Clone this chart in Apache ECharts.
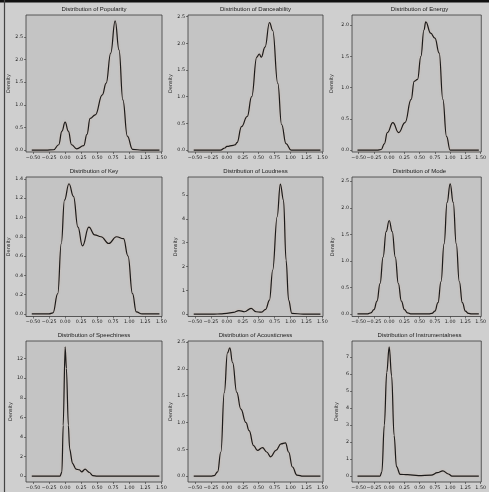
<!DOCTYPE html>
<html>
<head>
<meta charset="utf-8">
<script src="https://cdn.jsdelivr.net/npm/echarts@6/dist/echarts.min.js"></script>
<style>
  html, body { margin: 0; padding: 0; background: #cfcfcf; }
  #chart { width: 489px; height: 492px; }
</style>
</head>
<body>
<div id="chart"></div>
<script>
// ---------- data ----------
const titles = ["Distribution of Popularity", "Distribution of Danceability", "Distribution of Energy",
                "Distribution of Key", "Distribution of Loudness", "Distribution of Mode",
                "Distribution of Speechiness", "Distribution of Acousticness", "Distribution of Instrumentalness"];

const xTicks = [-0.5, -0.25, 0, 0.25, 0.5, 0.75, 1.0, 1.25, 1.5];

const popularityX = [-0.52, -0.3, -0.18, -0.1, -0.05, 0.0, 0.05, 0.1, 0.18, 0.29, 0.34, 0.39, 0.47, 0.58, 0.64, 0.71, 0.78, 0.84, 0.9, 0.97, 1.05, 1.2, 1.47];
const popularityY = [0, 0, 0.01, 0.12, 0.42, 0.62, 0.42, 0.12, 0.03, 0.1, 0.35, 0.7, 0.78, 1.22, 1.48, 2.14, 2.85, 2.21, 1.11, 0.31, 0.02, 0, 0];
const popularityTicks = [0, 0.5, 1.0, 1.5, 2.0, 2.5];

const danceabilityX = [-0.52, -0.2, -0.1, -0.03, 0.0, 0.1, 0.13, 0.16, 0.23, 0.32, 0.39, 0.47, 0.51, 0.54, 0.6, 0.67, 0.72, 0.8, 0.86, 0.93, 1.01, 1.2, 1.47];
const danceabilityY = [0, 0, 0.0, 0.04, 0.07, 0.09, 0.1, 0.14, 0.44, 0.63, 1.0, 1.74, 1.8, 1.74, 1.93, 2.39, 2.24, 1.25, 0.48, 0.12, 0.0, 0, 0];
const danceabilityTicks = [0, 0.5, 1.0, 1.5, 2.0, 2.5];

const energyX = [-0.52, -0.2, -0.13, -0.08, -0.03, 0.06, 0.155, 0.26, 0.36, 0.41, 0.465, 0.52, 0.57, 0.6, 0.68, 0.75, 0.82, 0.88, 0.94, 1.0, 1.2, 1.47];
const energyY = [0, 0, 0.01, 0.1, 0.28, 0.44, 0.28, 0.44, 0.81, 1.1, 1.13, 1.5, 1.92, 2.05, 1.87, 1.79, 1.55, 0.81, 0.22, 0.0, 0, 0];
const energyTicks = [0, 0.5, 1.0, 1.5, 2.0];

const keyX = [-0.52, -0.25, -0.19, -0.115, -0.06, -0.01, 0.06, 0.13, 0.2, 0.27, 0.37, 0.46, 0.56, 0.68, 0.8, 0.91, 0.98, 1.05, 1.11, 1.2, 1.47];
const keyY = [0, 0, 0.01, 0.21, 0.73, 1.18, 1.35, 1.22, 0.9, 0.705, 0.9, 0.82, 0.8, 0.73, 0.8, 0.78, 0.6, 0.21, 0.02, 0, 0];
const keyTicks = [0, 0.2, 0.4, 0.6, 0.8, 1.0, 1.2, 1.4];

const loudnessX = [-0.52, -0.2, -0.1, 0.0, 0.1, 0.19, 0.28, 0.38, 0.46, 0.54, 0.61, 0.67, 0.72, 0.79, 0.84, 0.89, 0.93, 0.97, 1.02, 1.2, 1.47];
const loudnessY = [0, 0, 0.01, 0.03, 0.07, 0.15, 0.1, 0.24, 0.1, 0.08, 0.2, 0.59, 1.85, 4.09, 5.46, 4.79, 2.27, 0.59, 0.03, 0, 0];
const loudnessTicks = [0, 1, 2, 3, 4, 5];

const modeX = [-0.52, -0.4, -0.35, -0.3, -0.25, -0.2, -0.15, -0.1, -0.05, 0.0, 0.05, 0.1, 0.15, 0.2, 0.25, 0.3, 0.35, 0.4,
               0.6, 0.65, 0.7, 0.75, 0.8, 0.85, 0.9, 0.95, 1.0, 1.05, 1.1, 1.15, 1.2, 1.25, 1.3, 1.35, 1.4, 1.47];
const modeY = [0, 0, 0.0, 0.02, 0.08, 0.24, 0.57, 1.07, 1.55, 1.76, 1.55, 1.07, 0.57, 0.24, 0.08, 0.02, 0.0, 0,
               0, 0.0, 0.01, 0.05, 0.21, 0.61, 1.32, 2.1, 2.45, 2.1, 1.32, 0.61, 0.21, 0.05, 0.01, 0.0, 0, 0];
const modeTicks = [0, 0.5, 1.0, 1.5, 2.0, 2.5];

const speechinessX = [-0.52, -0.2, -0.08, -0.05, -0.03, 0.0, 0.02, 0.05, 0.07, 0.115, 0.17, 0.22, 0.26, 0.31, 0.38, 0.43, 0.5, 0.7, 1.47];
const speechinessY = [0, 0, 0.0, 0.44, 5.2, 13.2, 11.0, 5.2, 2.8, 1.3, 0.71, 0.65, 0.44, 0.71, 0.37, 0.05, 0, 0, 0];
const speechinessTicks = [0, 2, 4, 6, 8, 10, 12];

const acousticnessX = [-0.52, -0.25, -0.2, -0.145, -0.094, -0.04, 0.01, 0.047, 0.09, 0.156, 0.22, 0.3, 0.35, 0.42, 0.48, 0.56, 0.625, 0.69, 0.77, 0.85, 0.92, 0.97, 1.03, 1.1, 1.2, 1.47];
const acousticnessY = [0, 0, 0.01, 0.08, 0.45, 1.56, 2.3, 2.39, 2.12, 1.56, 1.25, 1.0, 0.85, 0.57, 0.48, 0.53, 0.45, 0.36, 0.48, 0.6, 0.62, 0.45, 0.17, 0.02, 0, 0];
const acousticnessTicks = [0, 0.5, 1.0, 1.5, 2.0, 2.5];

const instrumentalnessX = [-0.52, -0.2, -0.15, -0.12, -0.08, -0.04, 0.0, 0.04, 0.08, 0.12, 0.18, 0.3, 0.48, 0.69, 0.79, 0.88, 0.97, 1.03, 1.2, 1.47];
const instrumentalnessY = [0, 0, 0.0, 0.25, 3.0, 6.1, 7.6, 5.9, 2.4, 0.55, 0.1, 0.08, 0.03, 0.05, 0.2, 0.31, 0.12, 0.0, 0, 0];
const instrumentalnessTicks = [0, 1, 2, 3, 4, 5, 6, 7, 8];

// ---------- layout ----------
const colLeft = [26, 188, 352];
const colWidth = [136, 135, 135];
const rowTop = [15, 177, 341];
const rowHeight = [137, 139.5, 141];

const panels = [
  { xs: popularityX, ys: popularityY, ticks: popularityTicks, dec: 1, ymin: -0.04, ymax: 2.98, gap: 14, smooth: 0.45 },
  { xs: danceabilityX, ys: danceabilityY, ticks: danceabilityTicks, dec: 1, ymin: -0.035, ymax: 2.53, gap: 15, smooth: 0.45 },
  { xs: energyX, ys: energyY, ticks: energyTicks, dec: 1, ymin: -0.03, ymax: 2.16, gap: 18, smooth: 0.45 },
  { xs: keyX, ys: keyY, ticks: keyTicks, dec: 1, ymin: -0.027, ymax: 1.42, gap: 14, smooth: 0.45 },
  { xs: loudnessX, ys: loudnessY, ticks: loudnessTicks, dec: 0, ymin: -0.1, ymax: 5.76, gap: 9, smooth: 0.4 },
  { xs: modeX, ys: modeY, ticks: modeTicks, dec: 1, ymin: -0.05, ymax: 2.58, gap: 17, smooth: 0.45 },
  { xs: speechinessX, ys: speechinessY, ticks: speechinessTicks, dec: 0, ymin: -0.6, ymax: 13.8, gap: 12, smooth: 0.3 },
  { xs: acousticnessX, ys: acousticnessY, ticks: acousticnessTicks, dec: 1, ymin: -0.11, ymax: 2.52, gap: 14, smooth: 0.45 },
  { xs: instrumentalnessX, ys: instrumentalnessY, ticks: instrumentalnessTicks, dec: 0, ymin: -0.35, ymax: 7.95, gap: 12.5, smooth: 0.4 }
];

const fmtX = v => (v < 0 ? '\u2212' : '') + Math.abs(v).toFixed(2);
const labelFont = { fontSize: 4.8, color: '#222', fontFamily: 'DejaVu Sans' };

const grid = [], xAxis = [], yAxis = [], series = [], title = [];
panels.forEach((p, i) => {
  const r = Math.floor(i / 3), c = i % 3;
  grid.push({
    left: colLeft[c], top: rowTop[r], width: colWidth[c], height: rowHeight[r],
    show: true, backgroundColor: '#c4c4c4', borderColor: '#3a3a3a', borderWidth: 0.8
  });
  xAxis.push({
    type: 'value', gridIndex: i, min: -0.61, max: 1.51, position: 'bottom',
    axisLine: { show: false, onZero: false }, splitLine: { show: false },
    axisTick: { show: true, length: 2, lineStyle: { color: '#333', width: 0.6 }, customValues: xTicks },
    axisLabel: { customValues: xTicks, formatter: fmtX, margin: 3, ...labelFont }
  });
  yAxis.push({
    type: 'value', gridIndex: i, min: p.ymin, max: p.ymax, position: 'left',
    name: 'Density', nameLocation: 'middle', nameGap: p.gap, nameRotate: 90,
    nameTextStyle: { fontSize: 5, color: '#222', fontFamily: 'DejaVu Sans' },
    axisLine: { show: false, onZero: false }, splitLine: { show: false },
    axisTick: { show: true, length: 2, lineStyle: { color: '#333', width: 0.6 }, customValues: p.ticks },
    axisLabel: { customValues: p.ticks, formatter: v => v.toFixed(p.dec), margin: 3, ...labelFont }
  });
  series.push({
    type: 'line', xAxisIndex: i, yAxisIndex: i,
    data: p.xs.map((x, k) => [x, p.ys[k]]),
    showSymbol: false, smooth: p.smooth, smoothMonotone: 'x',
    lineStyle: { color: '#1b1b1b', width: 1.2, shadowColor: 'rgba(225,160,120,0.35)', shadowBlur: 2 },
    silent: true, animation: false
  });
  title.push({
    text: titles[i], left: colLeft[c] + colWidth[c] / 2, top: rowTop[r] - 8.5,
    textAlign: 'center', padding: 0,
    textStyle: { fontSize: 6, fontWeight: 'normal', color: '#1a1a1a', fontFamily: 'Liberation Sans' }
  });
});

const chart = echarts.init(document.getElementById('chart'), null, { renderer: 'canvas' });
chart.setOption({
  backgroundColor: '#cfcfcf',
  animation: false,
  title, grid, xAxis, yAxis, series,
  graphic: [
    { type: 'rect', shape: { x: 0, y: 0, width: 489, height: 2.5 }, style: { fill: '#111' }, silent: true },
    { type: 'line', shape: { x1: 4.5, y1: 0, x2: 4.5, y2: 492 }, style: { stroke: '#444', lineWidth: 1.2 }, silent: true }
  ]
});
</script>
</body>
</html>
